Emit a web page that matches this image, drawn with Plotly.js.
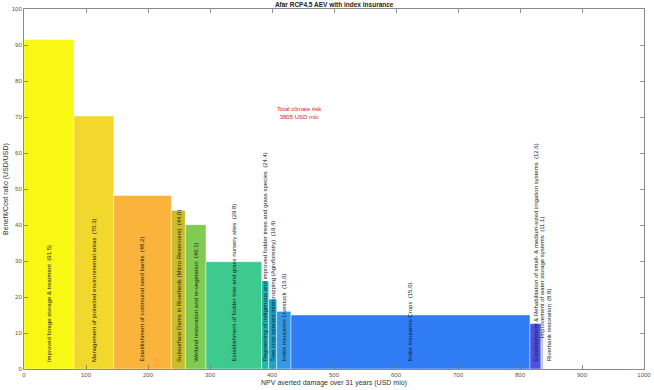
<!DOCTYPE html>
<html>
<head>
<meta charset="utf-8">
<script src="https://cdn.plot.ly/plotly-3.0.1.min.js"></script>
<style>html,body{margin:0;padding:0;background:#fff;}#chart{width:654px;height:390px;}</style>
</head>
<body>
<div id="chart"></div>
<script>
// ---- data ----
const measures = [
  "Improved forage storage & treatment",
  "Management of protected environmental areas",
  "Establishment of communal seed banks",
  "Subsurface Dams in Riverbeds (Micro Reservoirs)",
  "Wetland restoration and re-vegetation",
  "Establishment of fodder tree and grass nursery sites",
  "Regreening of indigenous and improved fodder trees and grass species",
  "Tree crop species intercropping (Agroforestry)",
  "Index insurance Livestock",
  "Index insurance Crops",
  "Establishment & Rehabilitation of small- & medium-sized irrigation systems",
  "Improvement of water storage systems",
  "Riverbank restoration"
];
const avertedDamage = [80.6, 64.1, 92.9, 22.6, 33.3, 89.9, 11.3, 12.9, 23.0, 385.5, 17.8, 1.0, 2.0];
const bcRatio = [91.5, 70.3, 48.2, 44.0, 40.1, 29.8, 24.4, 19.4, 16.0, 15.0, 12.6, 11.1, 8.8];
const barColors = ["#F8F814", "#F2D82C", "#FAB43C", "#CBBC2A", "#80CB52", "#3EC98E", "#1DB9AF",
                   "#17A6CF", "#3598E6", "#2F7CF5", "#4A52E6", "#3F62EE", "#8A9CF2"];
const xTicks = [0, 100, 200, 300, 400, 500, 600, 700, 800, 900, 1000];
const yTicks = [0, 10, 20, 30, 40, 50, 60, 70, 80, 90, 100];
const totalRisk = 3805;

// ---- build ----
const centers = [];
let cum = 0;
avertedDamage.forEach(w => { centers.push(cum + w / 2); cum += w; });

const trace = {
  type: 'bar',
  x: centers,
  y: bcRatio,
  width: avertedDamage,
  marker: { color: barColors, line: { color: 'rgba(255,255,255,0.55)', width: 0.8 } },
  hoverinfo: 'skip',
  showlegend: false
};

const annotations = [];
let prevX = -1e9;
measures.forEach((m, i) => {
  let lx = Math.max(centers[i], prevX + 11);
  prevX = lx;
  annotations.push({
    x: lx, y: (i === 11 ? 8 : 1.5), xref: 'x', yref: 'y',
    text: m + '  (' + bcRatio[i].toFixed(1) + ')',
    textangle: -90, showarrow: false,
    xanchor: 'center', yanchor: 'bottom',
    font: { family: 'Liberation Sans, Arial, sans-serif', size: 6, color: '#1a1a1a' }
  });
});
annotations.push({
  x: 445, y: 71, xref: 'x', yref: 'y', showarrow: false,
  text: 'Total climate risk<br>' + totalRisk + ' USD mio',
  font: { family: 'Liberation Sans, Arial, sans-serif', size: 6, color: '#E0201B' }
});
annotations.push({
  x: 216, y: 0.3, xref: 'x', yref: 'y', showarrow: false, textangle: -90,
  xanchor: 'center', yanchor: 'bottom', text: 'ED',
  font: { family: 'Liberation Sans, Arial, sans-serif', size: 6, color: '#F59A3C' }
});

const axisCommon = {
  showgrid: false, zeroline: false, showline: true, linecolor: '#8a8a8a', linewidth: 1,
  mirror: 'allticks', ticks: 'inside', ticklen: 4, tickcolor: '#777', tickwidth: 0.8,
  tickfont: { family: 'Liberation Sans, Arial, sans-serif', size: 6, color: '#555' }
};

const layout = {
  width: 654, height: 390,
  margin: { l: 24, r: 10, t: 9, b: 21 },
  paper_bgcolor: '#fff', plot_bgcolor: '#fff',
  bargap: 0,
  title: {
    text: '<b>Afar RCP4.5 AEV with index insurance</b>',
    x: 0.511, xanchor: 'center', y: 0.989, yanchor: 'middle', yref: 'container',
    font: { family: 'Liberation Sans, Arial, sans-serif', size: 6.5, color: '#222' }
  },
  xaxis: Object.assign({}, axisCommon, {
    range: [0, 1000], tickvals: xTicks, ticktext: xTicks.map(String),
    title: { text: 'NPV averted damage over 31 years (USD mio)', standoff: 2,
             font: { family: 'Liberation Sans, Arial, sans-serif', size: 7, color: '#333' } }
  }),
  yaxis: Object.assign({}, axisCommon, {
    range: [0, 100], tickvals: yTicks, ticktext: yTicks.map(String),
    title: { text: 'Benefit/Cost ratio (USD/USD)', standoff: 2,
             font: { family: 'Liberation Sans, Arial, sans-serif', size: 7, color: '#333' } }
  }),
  annotations: annotations
};

Plotly.newPlot('chart', [trace], layout, { displayModeBar: false, staticPlot: true });
</script>
</body>
</html>
